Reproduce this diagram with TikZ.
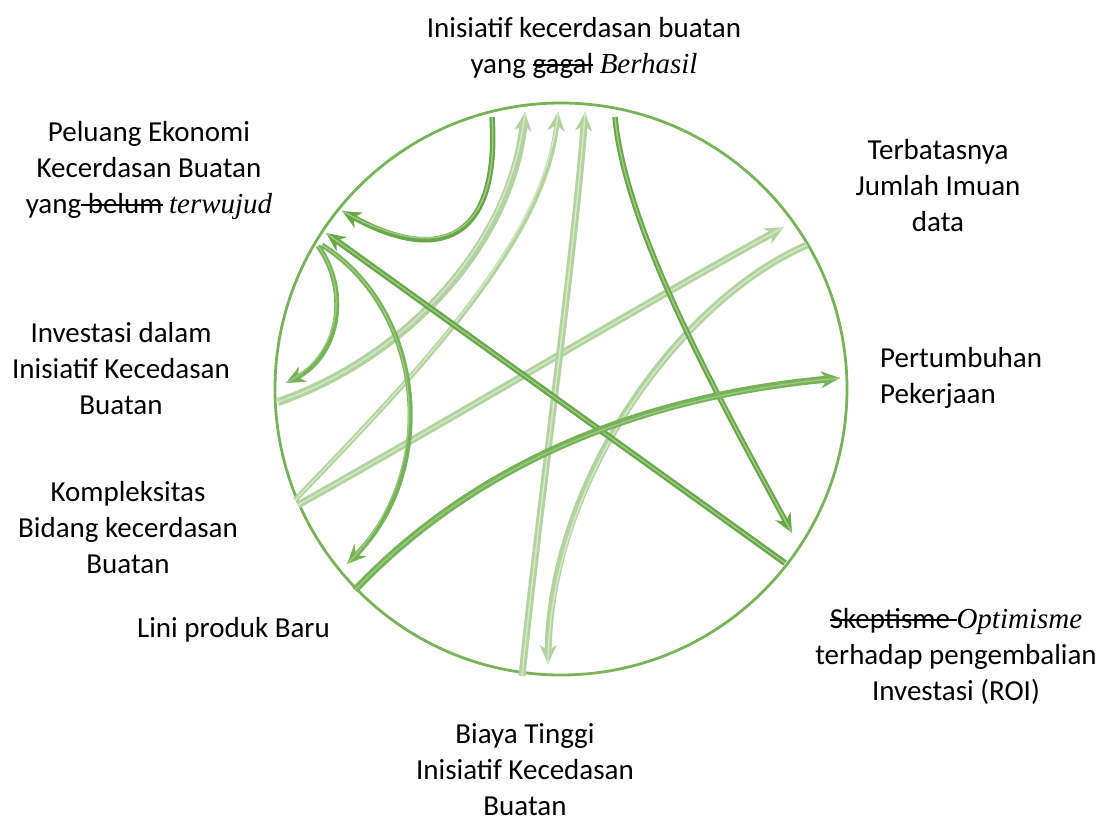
\documentclass[tikz,border=0pt]{standalone}
\usepackage{fontspec}
\setmainfont{Carlito}
\newfontfamily\tnr{Liberation Serif}
\newcommand{\strk}[1]{\setbox0\hbox{#1}\rlap{\rule[0.27em]{\wd0}{1.4pt}}\box0\relax}
\usetikzlibrary{arrows.meta}
\definecolor{circ}{RGB}{122,178,92}
\definecolor{darkg}{RGB}{104,166,74}
\definecolor{medg}{RGB}{118,178,88}
\definecolor{lightg}{RGB}{180,210,160}
\definecolor{innerg}{RGB}{158,204,132}
\definecolor{innerl}{RGB}{212,231,200}
\begin{document}
\begin{tikzpicture}[x=1pt,y=-1pt,
  lbl/.style={font=\fontsize{29}{36}\selectfont, align=center, inner sep=0pt, text=black},
  tip/.style={-{Stealth[length=19pt,width=17pt,inset=6pt]}},
  darkarr/.style={draw=darkg, line width=5.5pt, tip,
    postaction={draw=innerg, line width=1.4pt, arrows=-}},
  medarr/.style={draw=medg, line width=5pt, tip,
    postaction={draw=innerg, line width=1.2pt, arrows=-}},
  lightarr/.style={draw=lightg, line width=7pt, tip,
    postaction={draw=innerl, line width=1.5pt, arrows=-}}]
\useasboundingbox (0,0) rectangle (1106,821);

% ring
\node[draw=circ, line width=2.8pt, circle, minimum size=572pt, inner sep=0pt] (ring) at (561,389) {};

% labels
\node[lbl] (top) at (584,48) {Inisiatif kecerdasan buatan\\yang \strk{gagal} {\tnr\itshape Berhasil}};
\node[lbl] (pel) at (149,170.5) {Peluang Ekonomi\\Kecerdasan Buatan\\yang\strk{ belum} {\tnr\itshape terwujud}};
\node[lbl] (inv) at (121,368.5) {Investasi dalam\\Inisiatif Kecedasan\\Buatan};
\node[lbl] (komp) at (128,527.5) {Kompleksitas\\Bidang kecerdasan\\Buatan};
\node[lbl] (lini) at (233.5,630) {Lini produk Baru};
\node[lbl] (ter) at (938,185.5) {Terbatasnya\\Jumlah Imuan\\data};
\node[lbl, align=left, anchor=west] (pert) at (880,377.5) {Pertumbuhan\\Pekerjaan};
\node[lbl] (roi) at (956,656.5) {\strk{Skeptisme }{\tnr\itshape Optimisme}\\terhadap pengembalian\\Investasi (ROI)};
\node[lbl] (biaya) at (525,769.5) {Biaya Tinggi\\Inisiatif Kecedasan\\Buatan};

% connector end points on the ring
\coordinate (topA) at (492,117);
\coordinate (topB) at (615,117);
\coordinate (topC) at (525,112);
\coordinate (topD) at (558,112);
\coordinate (topE) at (585,112);
\coordinate (pelA) at (342,211);
\coordinate (pelB) at (326,233);
\coordinate (pelC) at (318,246);
\coordinate (pelD) at (322,245);
\coordinate (invA) at (286,383);
\coordinate (invB) at (278,402);
\coordinate (kompA) at (347,564);
\coordinate (kompB) at (298,505);
\coordinate (kompC) at (295,500);
\coordinate (liniA) at (355,590);
\coordinate (terA) at (784,227);
\coordinate (terB) at (807,245);
\coordinate (pertA) at (840,378);
\coordinate (roiA) at (792,533);
\coordinate (roiB) at (785,563);
\coordinate (biayaA) at (522,676);
\coordinate (biayaB) at (548,664);

% light connectors
\draw[lightarr] (kompB) .. controls (450,420) and (650,300) .. (terA);
\draw[lightarr, line width=8pt] (invB) .. controls (400,360) and (510,250) .. (topC);
\draw[lightarr, line width=5pt] (kompC) .. controls (420,370) and (545,240) .. (topD);
\draw[lightarr] (biayaA) .. controls (540,500) and (575,250) .. (topE);
\draw[lightarr] (terB) .. controls (680,300) and (550,480) .. (biayaB);

% darker connectors
\draw[darkarr] (topA) .. controls (500,240) and (440,265) .. (pelA);
\draw[darkarr] (topB) .. controls (625,230) and (720,400) .. (roiA);
\draw[darkarr, line width=6pt] (roiB) -- (pelB);
\draw[medarr] (pelC) .. controls (350,290) and (340,355) .. (invA);
\draw[medarr] (pelD) .. controls (425,310) and (440,470) .. (kompA);
\draw[medarr, line width=7pt] (liniA) .. controls (450,490) and (600,400) .. (pertA);
\end{tikzpicture}
\end{document}
